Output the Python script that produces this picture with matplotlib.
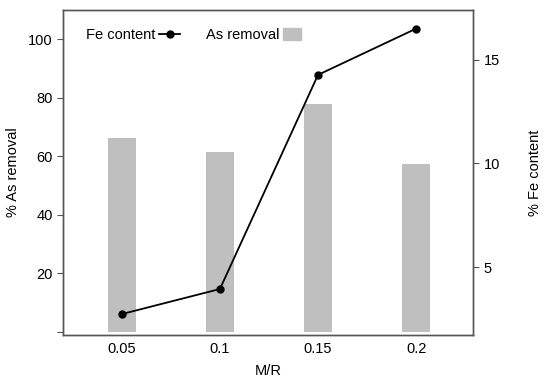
import matplotlib
matplotlib.use("Agg")
import matplotlib.pyplot as plt
from matplotlib.lines import Line2D
from matplotlib.patches import Patch, Rectangle
from matplotlib.legend_handler import HandlerPatch

plt.rcParams['font.family'] = ['Liberation Sans', 'DejaVu Sans']
plt.rcParams['font.size'] = 10.5

mr_labels = ["0.05", "0.1", "0.15", "0.2"]
as_removal = [66.2, 61.4, 77.8, 57.2]
fe_content = [2.73, 3.94, 14.27, 16.5]

frame_col = "#555555"
bar_col = "#bfbfbf"

fig = plt.figure(figsize=(5.5, 3.81), dpi=100)
ax = fig.add_axes([0.1145, 0.1207, 0.7455, 0.8531])
x = list(range(len(mr_labels)))
ax.bar(x, as_removal, width=0.29, color=bar_col, zorder=1)
ax.set_xlim(-0.6, 3.58)
ax.set_ylim(-1.2, 110)
ax.set_yticks([0, 20, 40, 60, 80, 100])
ax.set_yticklabels(["", "20", "40", "60", "80", "100"])
ax.set_xticks(x)
ax.set_xticklabels(mr_labels)
ax.set_xlabel("M/R", labelpad=6)
ax.set_ylabel("% As removal", labelpad=6)

ax2 = ax.twinx()
ax2.plot(x, fe_content, color="black", marker="o", markersize=5, linewidth=1.3)
ax2.set_ylim(1.72, 17.4)
ax2.set_yticks([5, 10, 15])
ax2.set_ylabel("% Fe content", labelpad=20)

for a in (ax, ax2):
    for s in a.spines.values():
        s.set_color(frame_col)
        s.set_linewidth(1.0)
    a.tick_params(direction="out", length=4, color=frame_col, width=0.8)
ax.tick_params(axis="x", length=0, pad=5)


def small_box(legend, orig_handle, xdescent, ydescent, width, height, fontsize):
    w, h = 13.0, 8.6
    return Rectangle((-xdescent, -ydescent + height / 2 - h / 2), w, h)


handles = [Line2D([], [], color="black", marker="o", markersize=5, linewidth=1.3),
           Patch(color=bar_col)]
leg = ax.legend(handles, ["Fe content", "As removal"], loc="upper left",
                ncol=2, frameon=False, markerfirst=False,
                bbox_to_anchor=(0.025, 0.985), handlelength=1.43,
                handletextpad=0.25, columnspacing=1.75,
                handler_map={Patch: HandlerPatch(patch_func=small_box)})

fig.savefig("out.png", dpi=100)
